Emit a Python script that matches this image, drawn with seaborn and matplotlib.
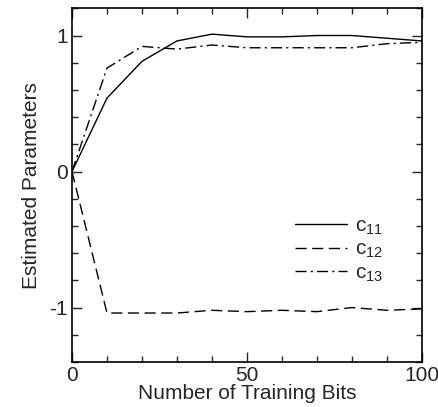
import matplotlib
matplotlib.use("Agg")
import matplotlib.pyplot as plt
import seaborn as sns
import pandas as pd
from matplotlib.ticker import MultipleLocator

bits = [0, 10, 20, 30, 40, 50, 60, 70, 80, 90, 100]
c11 = [0.0, 0.54, 0.81, 0.96, 1.01, 0.99, 0.99, 1.0, 1.0, 0.98, 0.96]
c12 = [0.0, -1.04, -1.04, -1.04, -1.02, -1.03, -1.02, -1.03, -1.0, -1.02, -1.01]
c13 = [0.0, 0.76, 0.92, 0.90, 0.93, 0.91, 0.91, 0.91, 0.91, 0.94, 0.95]
labels = [r'$\mathregular{c_{11}}$', r'$\mathregular{c_{12}}$', r'$\mathregular{c_{13}}$']

sns.set_theme(style="ticks")
plt.rcParams['font.family'] = ['Liberation Sans', 'DejaVu Sans']
plt.rcParams['axes.unicode_minus'] = False

df = pd.concat([
    pd.DataFrame({"bits": bits, "val": v, "param": lab})
    for v, lab in zip([c11, c12, c13], labels)
])

fig = plt.figure(figsize=(4.39, 4.07), dpi=100)
ax = fig.add_axes([0.164, 0.1106, 0.797, 0.869])

dashes = {labels[0]: "", labels[1]: (8, 4), labels[2]: (8, 3, 1.5, 3)}
sns.lineplot(data=df, x="bits", y="val", style="param", dashes=dashes,
             color="black", linewidth=1.0, ax=ax, legend=True)

ax.set_xlim(0, 100)
ax.set_ylim(-1.4, 1.2)
ax.xaxis.set_major_locator(MultipleLocator(50))
ax.xaxis.set_minor_locator(MultipleLocator(10))
ax.yaxis.set_major_locator(MultipleLocator(1))
ax.yaxis.set_minor_locator(MultipleLocator(0.2))
ax.tick_params(which="both", direction="in", top=True, right=True, labelsize=15)
ax.tick_params(which="major", length=7, width=1, pad=3)
ax.tick_params(which="minor", length=4, width=1)
for s in ax.spines.values():
    s.set_linewidth(1.2)
    s.set_color("black")

ax.set_xlabel("Number of Training Bits", fontsize=15, labelpad=-1)
ax.set_ylabel("Estimated Parameters", fontsize=15, labelpad=6)

leg = ax.legend(frameon=False, loc="center left", bbox_to_anchor=(0.637, 0.316),
                borderaxespad=0, borderpad=0,
                fontsize=15, handlelength=2.5, handletextpad=0.4, labelspacing=0.15)
for h in leg.get_lines():
    h.set_linewidth(1.0)

fig.savefig("out.png", dpi=100)
